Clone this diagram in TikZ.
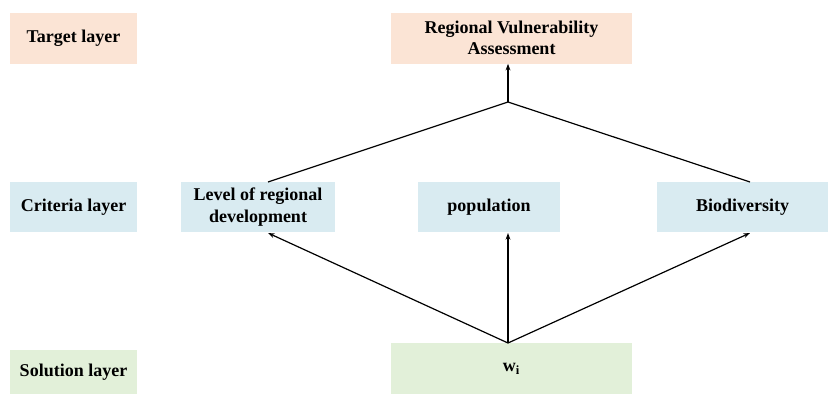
\documentclass[tikz,border=0pt]{standalone}
\usepackage{fontspec}
\setmainfont{Liberation Serif}
\usetikzlibrary{arrows.meta}
\definecolor{peach}{HTML}{FBE4D5}
\definecolor{paleblue}{HTML}{D9EBF1}
\definecolor{palegreen}{HTML}{E2F0D9}
\begin{document}
\begin{tikzpicture}[x=0.75pt, y=-0.75pt,
    box/.style={rectangle, inner sep=0pt, align=center,
        font=\fontsize{13.5}{16}\selectfont\bfseries},
    layer/.style={box, minimum width=127*0.75pt},
    link/.style={line width=0.9pt, black},
    arr/.style={link, -{Stealth[length=5pt, width=3.6pt]}}]
    \useasboundingbox (0,0) rectangle (830,394);
    % layer labels
    \node[layer, fill=peach, minimum height=51*0.75pt] (tgt) at (73.5,38) {Target layer};
    \node[layer, fill=paleblue, minimum height=50*0.75pt] (crt) at (73.5,207) {Criteria layer};
    \node[layer, fill=palegreen, minimum height=44*0.75pt] (sol) at (73.5,372) {Solution layer};
    % target
    \node[box, fill=peach, minimum width=241*0.75pt, minimum height=51*0.75pt] (rva) at (511.5,38)
        {Regional Vulnerability\\Assessment};
    % criteria
    \node[box, fill=paleblue, minimum width=154*0.75pt, minimum height=50*0.75pt] (lvl) at (258,207)
        {Level of regional\\development};
    \node[box, fill=paleblue, minimum width=142*0.75pt, minimum height=50*0.75pt] (pop) at (489,207)
        {population};
    \node[box, fill=paleblue, minimum width=171*0.75pt, minimum height=50*0.75pt] (bio) at (742.5,207)
        {Biodiversity};
    % solution
    \node[box, fill=palegreen, minimum width=241*0.75pt, minimum height=51*0.75pt] (wi) at (511.5,368.5)
        {w\textsubscript{i}};
    % connectors
    \coordinate (j) at (508,102);
    \coordinate (lvlT) at (268,182);
    \coordinate (bioT) at (750,182);
    \coordinate (lvlB) at (268,233);
    \coordinate (popB) at (508,233);
    \coordinate (bioB) at (750,233);
    \coordinate (wiT) at (508,343);
    \draw[link] (lvlT) -- (j) -- (bioT);
    \draw[arr] (j) -- (rva.south -| j);
    \draw[arr] (wiT) -- (lvlB);
    \draw[arr] (wiT) -- (popB);
    \draw[arr] (wiT) -- (bioB);
\end{tikzpicture}
\end{document}
